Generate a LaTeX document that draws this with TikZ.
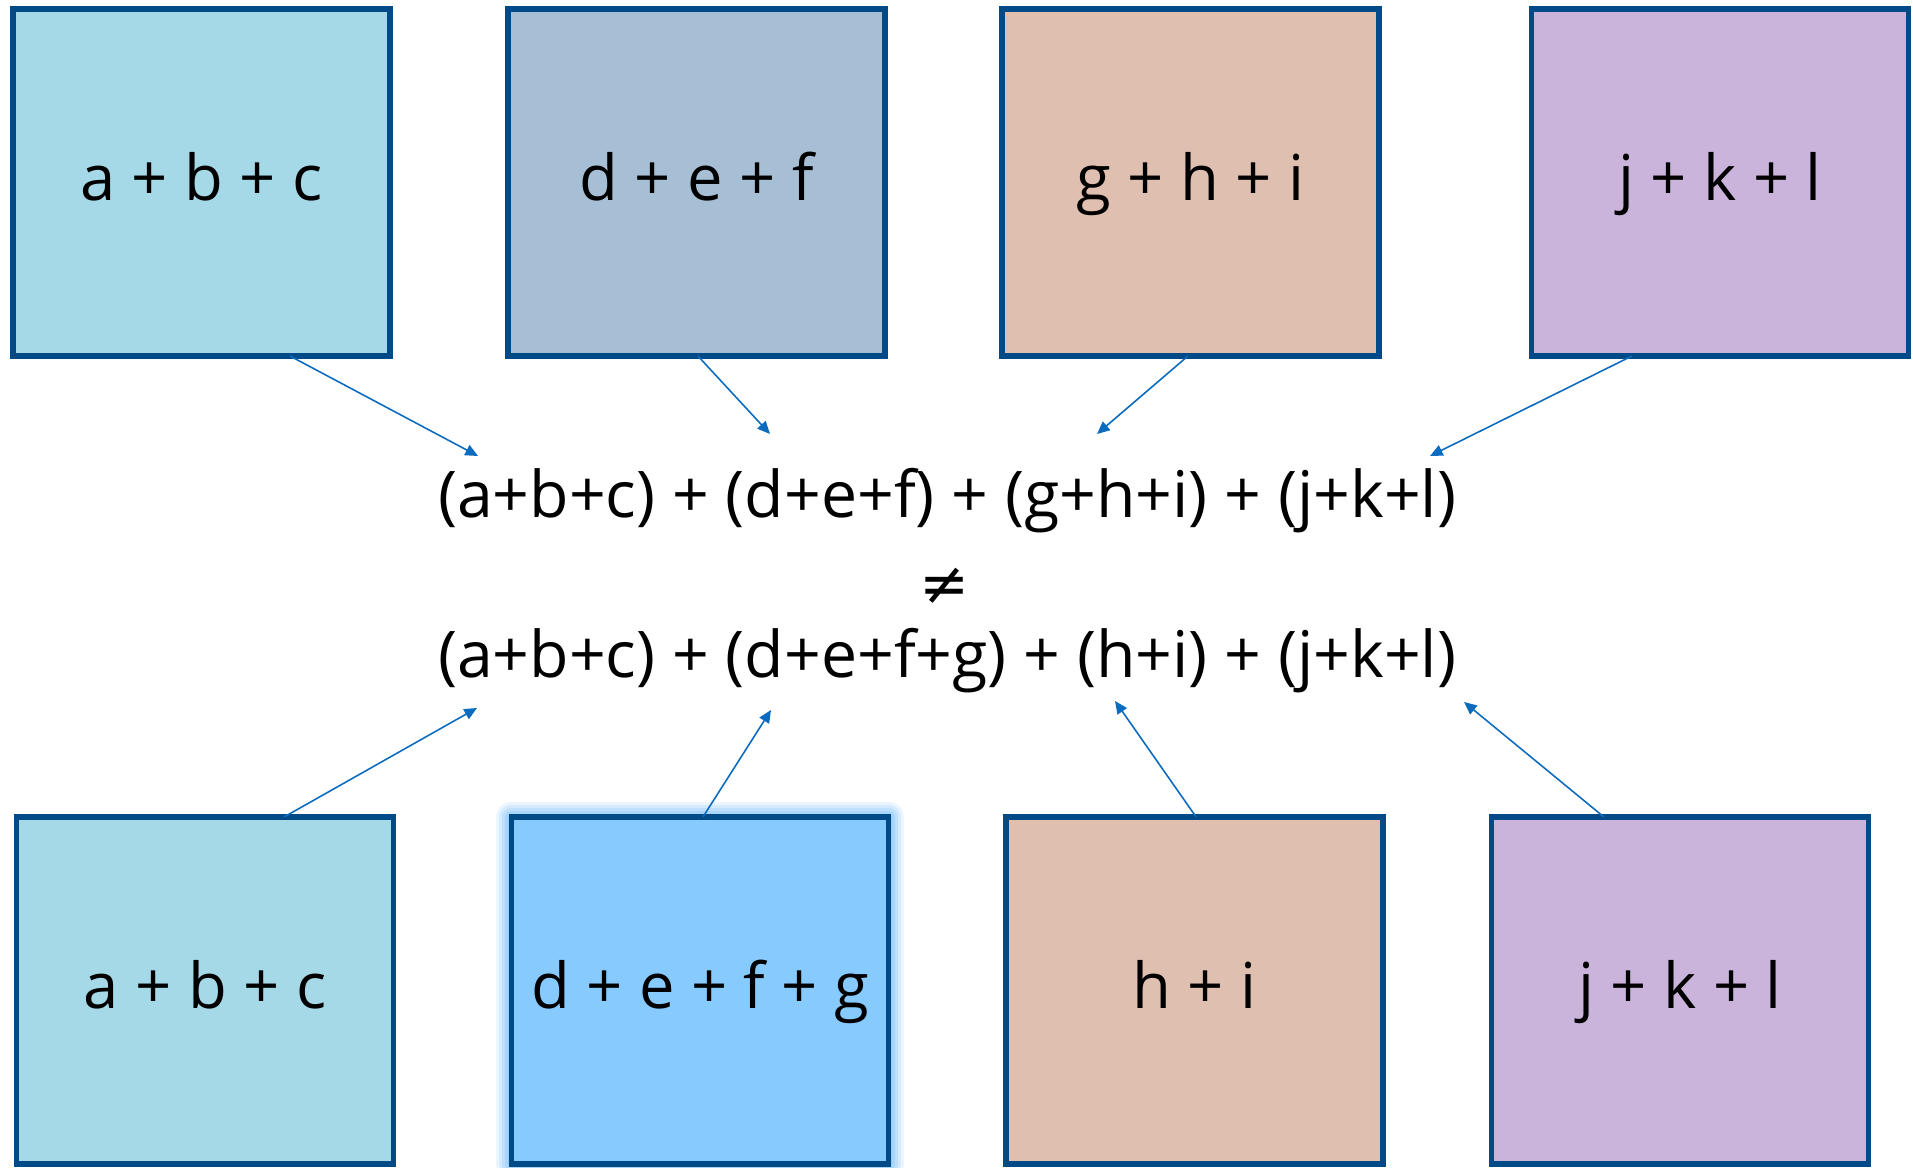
\documentclass[tikz,border=0pt]{standalone}
\usepackage{fontspec}
\setmainfont{Open Sans}
\newfontfamily\symfont{DejaVu Sans}
\usetikzlibrary{calc,arrows.meta}
\definecolor{bordercol}{RGB}{0,75,135}
\definecolor{arrowcol}{RGB}{11,107,191}
\definecolor{fillA}{RGB}{165,217,231}
\definecolor{fillB}{RGB}{167,191,212}
\definecolor{fillC}{RGB}{223,191,176}
\definecolor{fillD}{RGB}{203,180,219}
\definecolor{fillE}{RGB}{135,203,254}
\definecolor{glowcol}{RGB}{110,185,250}
\tikzset{
  box/.style={draw=bordercol, line width=1.55pt, rectangle, minimum width=3.77cm, minimum height=3.47cm, inner sep=0pt, outer sep=0pt, text height=0.52cm, text depth=0.16cm, font=\fontsize{18}{21}\selectfont},
  eqtext/.style={inner sep=0pt, outer sep=0pt, font=\fontsize{18.3}{21}\selectfont},
  conn/.style={draw=arrowcol, line width=0.45pt, -{Triangle[length=3.6pt, width=3.2pt]}}
}
\begin{document}
\begin{tikzpicture}[x=0.01cm, y=-0.01cm]
\useasboundingbox (0,0) rectangle (1913,1168);
% glow for highlighted box
\foreach \w/\o in {30/0.14, 24/0.18, 18/0.22, 12/0.28, 6/0.32} {
  \draw[glowcol, opacity=\o, line width=\w*0.2845pt, line join=round] (511,817.5) rectangle (889,1164);
}
% top boxes
\node[box, fill=fillA] (b1) at (201.5,182.5) {a + b + c};
\node[box, fill=fillB] (b2) at (696.5,182.5) {d + e + f};
\node[box, fill=fillC] (b3) at (1190.5,182.5) {g + h + i};
\node[box, fill=fillD] (b4) at (1720,182.5) {j + k + l};
% bottom boxes
\node[box, fill=fillA] (c1) at (205,990.5) {a + b + c};
\node[box, fill=fillE] (c2) at (700,990.5) {d + e + f + g};
\node[box, fill=fillC] (c3) at (1194.5,990.5) {h + i};
\node[box, fill=fillD] (c4) at (1680,990.5) {j + k + l};
% equations
\node[eqtext, anchor=base] (eq1) at (947,518) {(a+b+c) + (d+e+f) + (g+h+i) + (j+k+l)};
\node[eqtext, anchor=center] (neq) at (945,586) {\symfont\fontsize{17}{20}\selectfont ≠};
\node[eqtext, anchor=base] (eq2) at (947,678) {(a+b+c) + (d+e+f+g) + (h+i) + (j+k+l)};
% arrow tips
\coordinate (t1) at (478,456);
\coordinate (t2) at (770,434);
\coordinate (t3) at (1097,434);
\coordinate (t4) at (1430,456);
\coordinate (u1) at (477,708);
\coordinate (u2) at (771,710);
\coordinate (u3) at (1115,701);
\coordinate (u4) at (1464,702);
% connectors
\draw[conn] ($(b1.south west)!0.735!(b1.south east)$) -- (t1);
\draw[conn] ($(b2.south west)!0.504!(b2.south east)$) -- (t2);
\draw[conn] ($(b3.south west)!0.493!(b3.south east)$) -- (t3);
\draw[conn] ($(b4.south west)!0.266!(b4.south east)$) -- (t4);
\draw[conn] ($(c1.north west)!0.71!(c1.north east)$) -- (u1);
\draw[conn] ($(c2.north west)!0.508!(c2.north east)$) -- (u2);
\draw[conn] ($(c3.north west)!0.504!(c3.north east)$) -- (u3);
\draw[conn] ($(c4.north west)!0.298!(c4.north east)$) -- (u4);
\end{tikzpicture}
\end{document}
